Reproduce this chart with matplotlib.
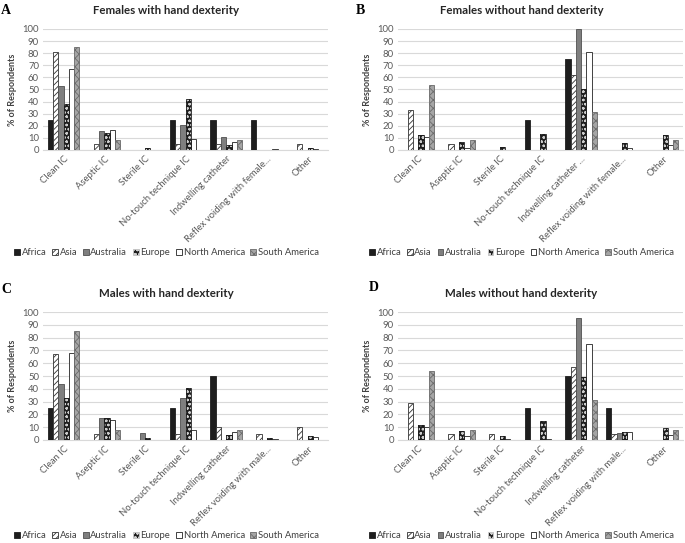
import numpy as np
import matplotlib
matplotlib.use('Agg')
import matplotlib.pyplot as plt
from matplotlib.patches import Patch

plt.rcParams['font.family'] = ['Lato', 'DejaVu Sans']
plt.rcParams['hatch.linewidth'] = 0.6

regions = ['Africa', 'Asia', 'Australia', 'Europe', 'North America', 'South America']

cats_female = ['Clean IC', 'Aseptic IC', 'Sterile IC', 'No-touch technique IC',
               'Indwelling catheter', 'Reflex voiding with female...', 'Other']
cats_female_b = ['Clean IC', 'Aseptic IC', 'Sterile IC', 'No-touch technique IC',
                 'Indwelling catheter ...', 'Reflex voiding with female...', 'Other']
cats_male = ['Clean IC', 'Aseptic IC', 'Sterile IC', 'No-touch technique IC',
             'Indwelling catheter', 'Reflex voiding with male...', 'Other']

# rows: Africa, Asia, Australia, Europe, North America, South America
fem_dex = [
    [25, 0, 0, 25, 25, 25, 0],
    [81, 5, 0, 5, 5, 0, 5],
    [53, 16, 0, 21, 11, 0, 0],
    [38, 14, 1.5, 42, 4, 0, 1.5],
    [67, 16.5, 0, 9, 7, 1, 1],
    [85, 8, 0, 0, 8, 0, 0],
]
fem_nodex = [
    [0, 0, 0, 25, 75, 0, 0],
    [33, 5, 0, 0, 62, 0, 0],
    [0, 0, 0, 0, 100, 0, 0],
    [12, 7, 2.5, 13, 50, 6, 12],
    [11, 2, 0, 0, 81, 2, 4],
    [54, 8, 0, 0, 31, 0, 8],
]
male_dex = [
    [25, 0, 0, 25, 50, 0, 0],
    [67, 5, 0, 5, 10, 5, 10],
    [44, 17, 5.5, 33, 0, 0, 0],
    [33, 17, 1.5, 41, 4, 1.5, 3],
    [68, 16, 0, 8, 6, 1, 2],
    [85, 8, 0, 0, 8, 0, 0],
]
male_nodex = [
    [0, 0, 0, 25, 50, 25, 0],
    [29, 5, 5, 0, 57, 5, 0],
    [0, 0, 0, 0, 95, 5.5, 0],
    [12, 7, 3, 15, 49, 6.5, 9.5],
    [10, 3, 1, 1, 75, 6, 4],
    [54, 8, 0, 0, 31, 0, 8],
]

# letter, title, categories, data, axes rect, letter pos (fig px), legend y (axes frac)
panels = [
    ('A', 'Females with hand dexterity', cats_female, fem_dex,
     [0.063, 0.7238, 0.416, 0.2228], (1, 4), -0.85),
    ('B', 'Females without hand dexterity', cats_female_b, fem_nodex,
     [0.581, 0.7238, 0.416, 0.2228], (356, 4), -0.85),
    ('C', 'Males with hand dexterity', cats_male, male_dex,
     [0.063, 0.1897, 0.416, 0.2357], (1, 283), -0.75),
    ('D', 'Males without hand dexterity', cats_male, male_nodex,
     [0.581, 0.1897, 0.416, 0.2357], (369, 281), -0.75),
]

styles = [
    dict(facecolor='#1e1e1e', edgecolor='#1e1e1e'),
    dict(facecolor='white', edgecolor='#333333', hatch='//////'),
    dict(facecolor='#7f7f7f', edgecolor='#505050'),
    dict(facecolor='#1e1e1e', edgecolor='#cccccc', hatch='oooo'),
    dict(facecolor='white', edgecolor='#222222'),
    dict(facecolor='#a5a5a5', edgecolor='#6a6a6a', hatch='xxxx'),
]

W, H = 685, 543
fig = plt.figure(figsize=(W / 100, H / 100), dpi=100)
w = 0.13
grey = '#595959'

for letter, title, cats, data, pos, lpos, legy in panels:
    ax = fig.add_axes(pos)
    x = np.arange(len(cats))
    for i, (name, vals) in enumerate(zip(regions, data)):
        xs = x + (i - 2.5) * w
        st = styles[i]
        if i == 3:
            # dotted fill first, then the dark outline on top
            ax.bar(xs, vals, w, facecolor=st['facecolor'], edgecolor=st['edgecolor'],
                   hatch=st['hatch'], linewidth=0, zorder=3)
            ax.bar(xs, vals, w, fill=False, edgecolor='#1e1e1e', linewidth=0.6, zorder=4)
        else:
            ax.bar(xs, vals, w, linewidth=0.6, zorder=3, **st)
    ax.set_xlim(-0.5, len(cats) - 0.5)
    ax.set_ylim(0, 100)
    ax.set_yticks(np.arange(0, 101, 10))
    ax.yaxis.grid(True, color='#d9d9d9', linewidth=0.8, zorder=0)
    ax.set_axisbelow(True)
    for s in ['top', 'right', 'left']:
        ax.spines[s].set_visible(False)
    ax.spines['bottom'].set_color('#d9d9d9')
    ax.tick_params(axis='both', length=0, labelsize=6.8, colors=grey, pad=3)
    ax.set_xticks(x)
    ax.set_xticklabels(cats, rotation=45, ha='right', rotation_mode='anchor')
    ax.set_ylabel('% of Respondents', fontsize=6.5, fontweight='bold', color='#404040', labelpad=4)
    ax.set_title(title, fontsize=8.3, fontweight='bold', color='#262626', pad=11, x=0.433)
    fig.text(lpos[0] / W, 1 - lpos[1] / H, letter, fontsize=10, fontweight='bold',
             family='Liberation Serif', va='top', ha='left')
    handles = [Patch(**styles[i], linewidth=0.6, label=regions[i]) for i in range(6)]
    ax.legend(handles=handles, loc='center', bbox_to_anchor=(0.433, legy),
              ncol=6, frameon=False, fontsize=6.8, handlelength=0.6, handleheight=0.6,
              handletextpad=0.2, columnspacing=0.6, labelcolor='#404040')

fig.savefig('out.png', dpi=100)
